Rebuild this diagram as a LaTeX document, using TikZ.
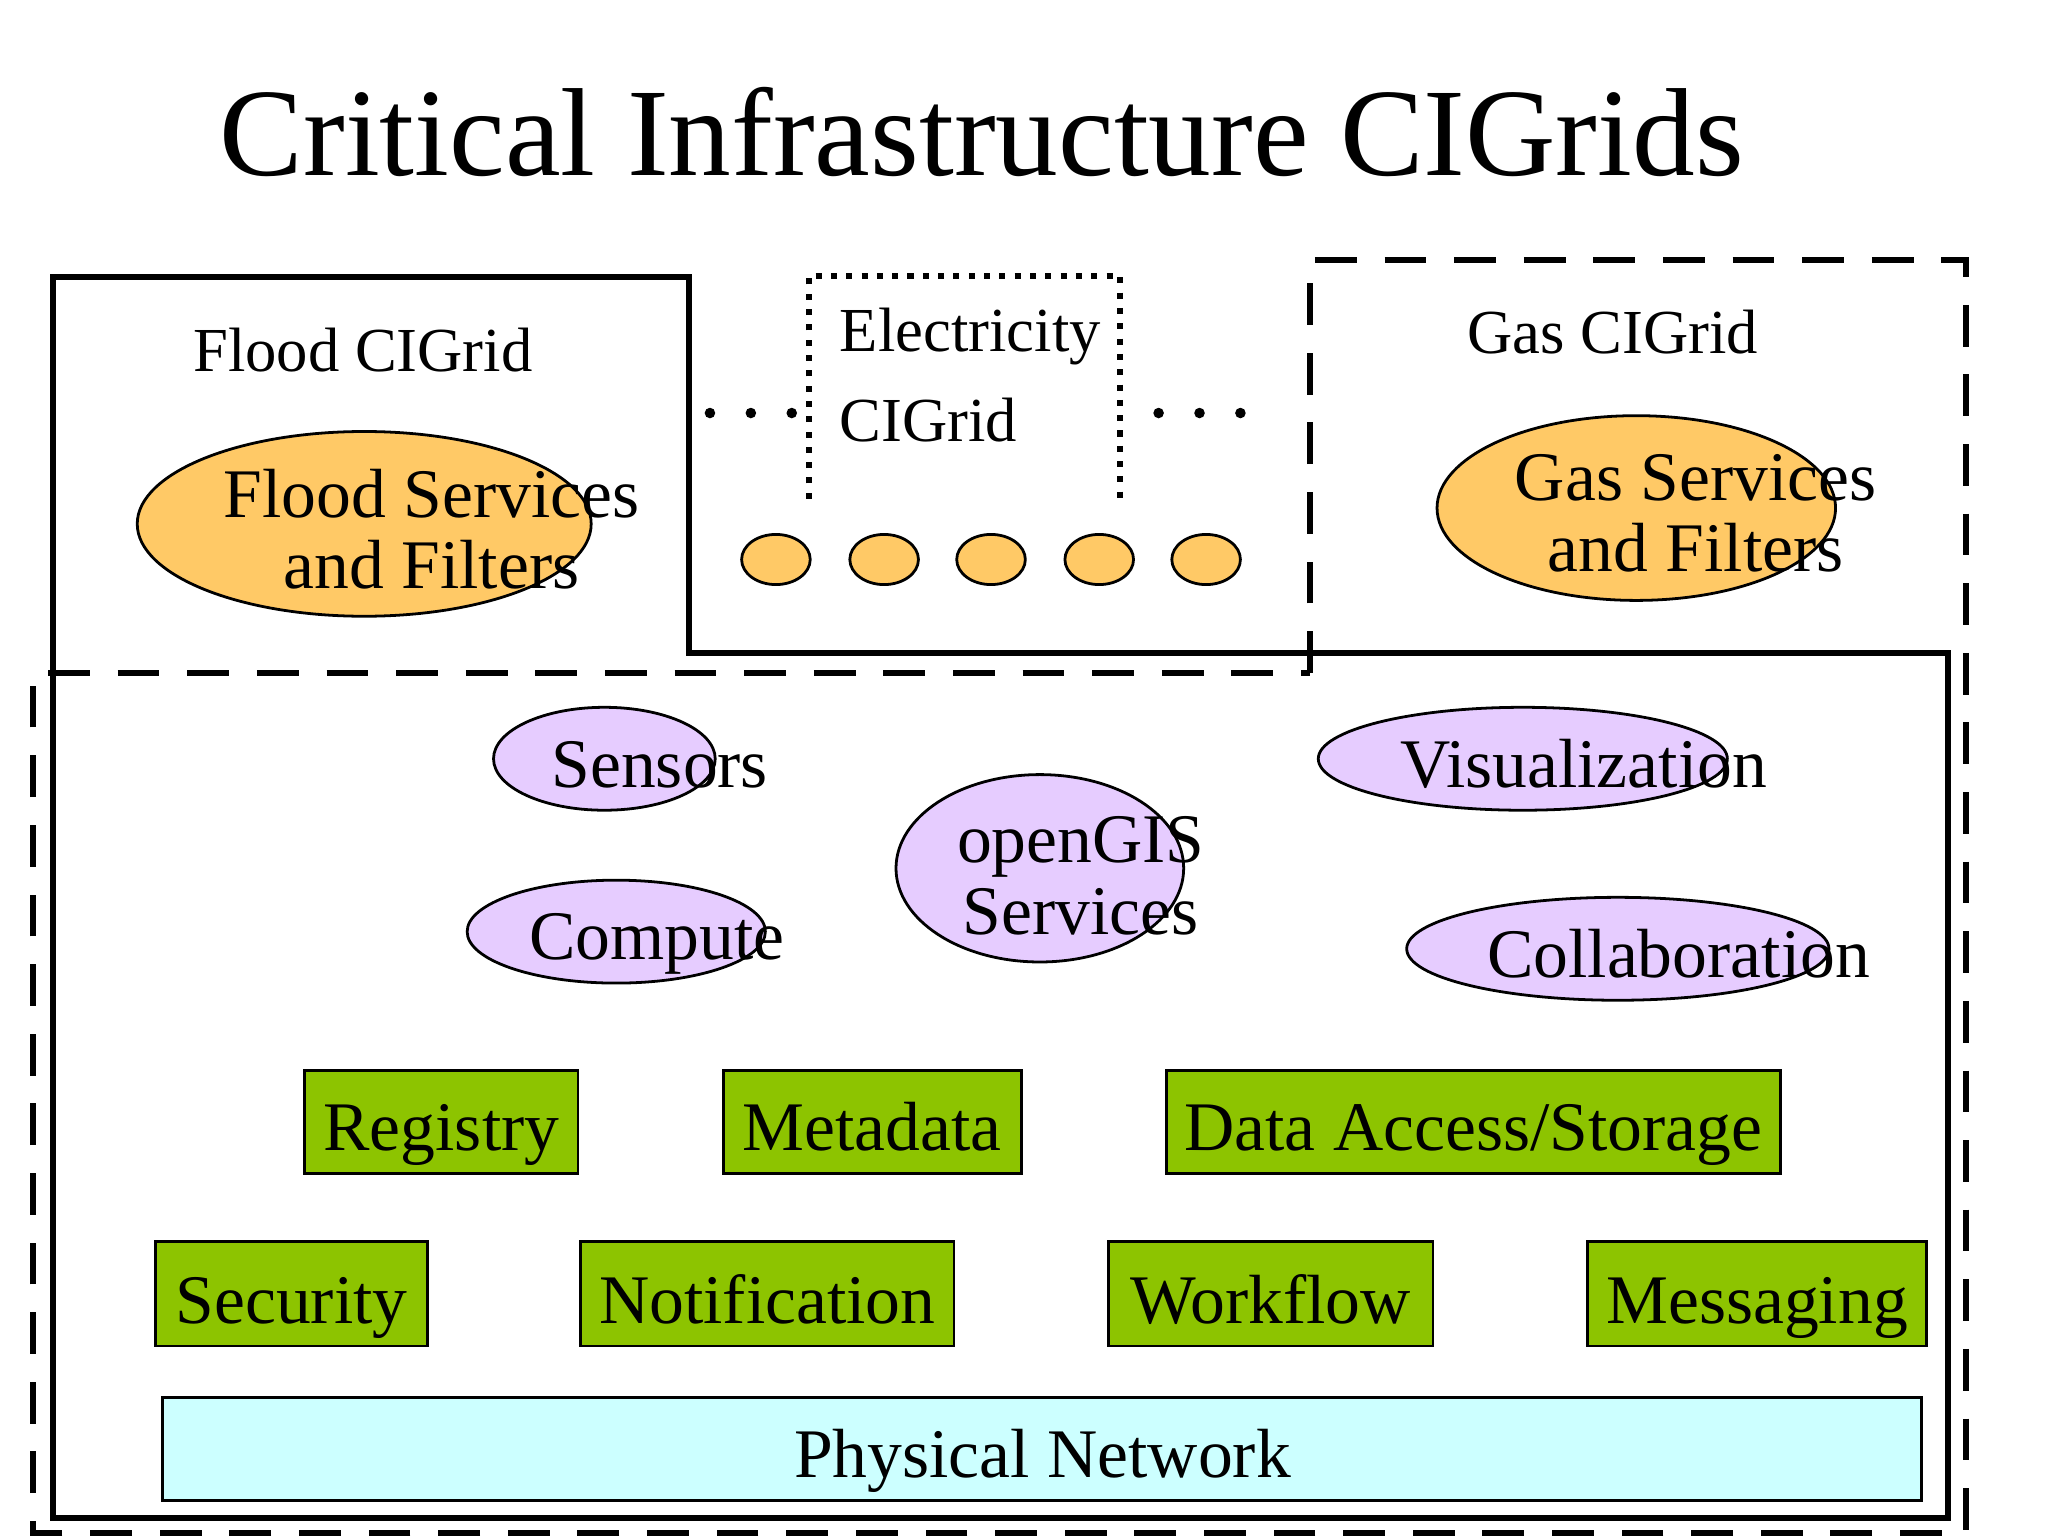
\documentclass[tikz,border=0pt]{standalone}
\usepackage{fontspec}
\setmainfont{Liberation Serif}
\begin{document}
\begin{tikzpicture}[x=0.01cm,y=-0.01cm,
  big/.style={font=\fontsize{15}{17.5}\selectfont},
  mid/.style={font=\fontsize{13.5}{16}\selectfont}]
\definecolor{og}{HTML}{FFC966}
\definecolor{pu}{HTML}{E6CCFF}
\definecolor{gr}{HTML}{8DC400}
\definecolor{cy}{HTML}{CCFFFF}
\useasboundingbox (0,0) rectangle (1552,1164);
\node[font=\fontsize{27}{32}\selectfont] (title) at (744,100) {Critical Infrastructure CIGrids};
% outlines
\draw[line width=1.3pt] (40,210) -- (522,210) -- (522,495) -- (1476,495) -- (1476,1150) -- (40,1150) -- cycle;
\draw[line width=1.3pt,dash pattern=on 9pt off 6pt] (993,510) -- (993,197) -- (1490,197) -- (1490,1162) -- (25,1162) -- (25,510) -- cycle;
\draw[line width=1.3pt,dotted] (613,378) -- (613,209) -- (849,209) -- (849,378);
% labels
\node[mid] (fl) at (275,265) {Flood CIGrid};
\node[mid,anchor=west] (el1) at (624,255) {Electricity};
\node[mid,anchor=west] (el2) at (624,318) {CIGrid};
\node[mid] (gl) at (1222,252) {Gas CIGrid};
\foreach \x in {538,569,600,878,909,940} \fill (\x,313) circle (4);
% orange
\filldraw[fill=og,line width=0.6pt] (276,397) ellipse [x radius=172,y radius=70];
\node[big,align=center] (fs) at (327,401) {Flood Services\\[-2pt]and Filters};
\filldraw[fill=og,line width=0.6pt] (1240,385) ellipse [x radius=151,y radius=70];
\node[big,align=center] (gs) at (1285,389) {Gas Services\\[-2pt]and Filters};
\foreach \x in {588,670,751,833,914}
  \filldraw[fill=og,line width=0.6pt] (\x,424) ellipse [x radius=26,y radius=19];
% purple
\filldraw[fill=pu,line width=0.6pt] (458,575) ellipse [x radius=84,y radius=39];
\node[big,anchor=base] (sen) at (500,597) {Sensors};
\filldraw[fill=pu,line width=0.6pt] (467,706) ellipse [x radius=113,y radius=39];
\node[big,anchor=base] (com) at (498,727) {Compute};
\filldraw[fill=pu,line width=0.6pt] (788,658) ellipse [x radius=109,y radius=71];
\node[big,align=center] (gis) at (819,664) {openGIS\\[-2pt]Services};
\filldraw[fill=pu,line width=0.6pt] (1154,575) ellipse [x radius=155,y radius=39];
\node[big,anchor=base] (vis) at (1200,597) {Visualization};
\filldraw[fill=pu,line width=0.6pt] (1226,719) ellipse [x radius=160,y radius=39];
\node[big,anchor=base] (col) at (1272,741) {Collaboration};
% green
\foreach \a/\b/\c/\d/\t in {231/811/438/889/Registry,548/811/774/889/Metadata,884/811/1349/889/{Data Access/Storage},118/941/324/1020/Security,440/941/723/1020/Notification,840/941/1086/1020/Workflow,1203/941/1460/1020/Messaging}
  {\filldraw[fill=gr,line width=0.6pt] (\a,\b) rectangle (\c,\d);
   \node[big,anchor=base] at ({(\a+\c)/2},{\d-17}) {\t};}
\filldraw[fill=cy,line width=0.6pt] (123,1059) rectangle (1456,1137);
\node[big,anchor=base] (pn) at (790,1120) {Physical Network};
\end{tikzpicture}
\end{document}
